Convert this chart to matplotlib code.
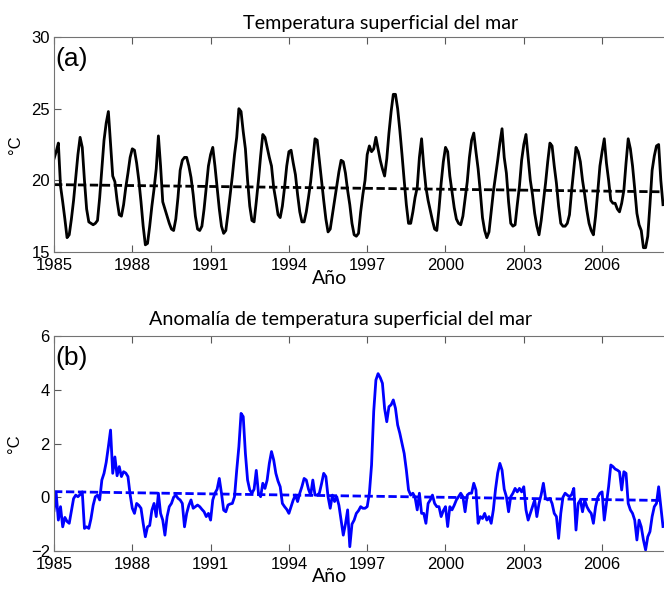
import matplotlib
matplotlib.use('Agg')
import matplotlib.pyplot as plt
import numpy as np

plt.rcParams['font.family'] = ['Liberation Sans', 'DejaVu Sans']

# monthly sea surface temperature (degC), Jan 1985 - May 2008
sst = [
    21.5, 22.0, 22.6, 19.6, 18.5, 17.3, 16.0, 16.2, 17.3, 18.6, 20.2, 21.8,  # 1985
    23.0, 22.3, 20.0, 18.0, 17.1, 17.0, 16.9, 17.0, 17.2, 18.8, 20.8, 22.8,  # 1986
    24.0, 24.8, 22.5, 20.3, 19.9, 18.6, 17.6, 17.5, 18.3, 19.5, 20.5, 21.6,  # 1987
    22.2, 22.1, 21.2, 20.0, 18.5, 16.8, 15.5, 15.6, 16.8, 18.2, 19.4, 20.8,  # 1988
    23.1, 21.0, 18.5, 18.0, 17.5, 17.0, 16.6, 16.5, 17.3, 18.8, 20.7, 21.4,  # 1989
    21.6, 21.6, 21.0, 20.2, 19.0, 17.5, 16.6, 16.5, 16.8, 18.0, 19.5, 21.0,  # 1990
    21.8, 22.3, 21.0, 19.5, 18.0, 16.8, 16.3, 16.5, 17.7, 19.0, 20.3, 21.8,  # 1991
    23.0, 25.0, 24.8, 23.4, 22.2, 20.0, 18.2, 17.2, 17.1, 18.5, 20.0, 21.7,  # 1992
    23.2, 23.0, 22.3, 21.6, 21.0, 19.5, 18.6, 17.6, 17.4, 18.2, 19.5, 21.0,  # 1993
    22.0, 22.1, 21.2, 20.4, 19.0, 17.8, 17.1, 17.1, 17.8, 18.8, 19.9, 21.4,  # 1994
    22.9, 22.8, 21.4, 20.0, 18.6, 17.3, 16.4, 16.6, 17.6, 18.6, 19.6, 20.6,  # 1995
    21.4, 21.3, 20.5, 19.3, 18.3, 17.0, 16.2, 16.1, 16.3, 17.8, 19.0, 20.0,  # 1996
    21.8, 22.4, 22.0, 22.2, 23.0, 22.2, 21.4, 20.8, 20.3, 21.5, 23.3, 24.8,  # 1997
    26.0, 26.0, 25.0, 23.5, 21.8, 20.0, 18.3, 17.0, 17.0, 17.8, 18.8, 19.5,  # 1998
    21.6, 22.9, 21.0, 19.5, 18.6, 17.9, 17.2, 16.6, 16.5, 18.0, 19.8, 21.3,  # 1999
    22.3, 22.0, 20.3, 19.2, 18.1, 17.3, 17.0, 16.9, 17.5, 18.7, 19.9, 21.6,  # 2000
    22.8, 23.3, 22.0, 20.8, 19.2, 17.4, 16.5, 16.0, 16.4, 17.8, 19.2, 20.3,  # 2001
    21.4, 22.6, 23.6, 21.6, 20.5, 18.5, 17.0, 16.8, 16.9, 18.3, 19.6, 21.4,  # 2002
    22.5, 23.2, 21.6, 20.0, 19.0, 17.7, 16.8, 16.2, 17.2, 18.5, 19.8, 21.3,  # 2003
    22.6, 22.4, 21.0, 19.8, 18.2, 17.0, 16.8, 16.8, 17.0, 17.6, 19.3, 20.8,  # 2004
    22.3, 22.0, 21.3, 20.0, 19.0, 17.9, 17.0, 16.5, 16.2, 17.5, 19.2, 21.0,  # 2005
    22.0, 22.9, 21.2, 20.0, 18.6, 18.4, 18.4, 18.0, 17.8, 18.4, 19.3, 21.2,  # 2006
    22.9, 22.2, 21.0, 19.4, 17.7, 16.9, 16.5, 15.3, 15.3, 16.1, 18.3, 20.7,  # 2007
    21.7, 22.4, 22.5, 20.0, 18.3,                                            # 2008
]

# monthly SST anomaly (degC)
anom = [
    -0.50, 0.15, -0.85, -0.35, -1.10, -0.75, -0.90, -0.97, -0.50, -0.05, 0.08, 0.02,  # 1985
    0.10, 0.20, -1.16, -1.10, -1.16, -0.80, -0.30, 0.02, 0.08, -0.10, 0.64, 0.89,     # 1986
    1.30, 1.88, 2.50, 0.89, 1.50, 0.80, 1.14, 0.77, 0.95, 0.90, 0.77, 0.10,           # 1987
    -0.41, -0.60, -0.23, -0.30, -0.41, -0.97, -1.47, -1.10, -1.05, -0.48, -0.23, -0.72,  # 1988
    0.15, -0.60, -0.85, -1.41, -0.72, -0.35, -0.23, 0.00, 0.08, -0.04, -0.10, -0.23,  # 1989
    -1.10, -0.60, -0.30, -0.10, -0.41, -0.35, -0.29, -0.35, -0.45, -0.54, -0.72, -0.60,  # 1990
    -0.85, -0.10, 0.15, 0.30, 0.70, 0.15, -0.48, -0.54, -0.29, -0.25, -0.23, 0.02,    # 1991
    1.00, 1.88, 3.12, 3.00, 1.63, 0.64, 0.27, 0.15, 0.30, 1.00, 0.15, 0.02,           # 1992
    0.52, 0.33, 0.64, 1.26, 1.70, 1.39, 0.89, 0.60, 0.39, -0.23, -0.35, -0.45,        # 1993
    -0.60, -0.35, -0.10, 0.08, -0.16, 0.15, 0.40, 0.70, 0.64, 0.30, 0.08, 0.64,       # 1994
    0.08, 0.08, 0.15, 0.50, 0.89, 0.77, 0.02, -0.41, 0.08, -0.16, 0.02, -0.30,        # 1995
    -0.85, -1.41, -1.00, -0.47, -1.84, -1.00, -0.85, -0.60, -0.50, -0.35, -0.41, -0.41,  # 1996
    -0.35, 0.15, 1.20, 3.20, 4.36, 4.60, 4.45, 4.24, 3.30, 2.81, 3.37, 3.44,          # 1997
    3.62, 3.31, 2.69, 2.38, 2.00, 1.63, 1.01, 0.27, 0.08, 0.15, 0.00, -0.47,          # 1998
    0.15, -0.60, -0.60, -0.97, -0.23, -0.10, 0.08, -0.23, -0.35, -0.35, -0.72, -0.50,  # 1999
    -0.35, -1.09, -0.35, -0.47, -0.30, -0.10, 0.02, 0.15, 0.02, -0.54, 0.08, 0.15,    # 2000
    0.15, 0.52, 0.27, -0.97, -0.72, -0.79, -0.60, -0.85, -0.72, -0.97, -0.47, 0.30,   # 2001
    0.90, 1.26, 1.01, 0.30, 0.02, -0.54, 0.02, 0.15, 0.33, 0.20, 0.33, 0.20,          # 2002
    0.39, -0.47, -0.85, -0.60, -0.35, -0.10, -0.72, -0.23, 0.10, 0.52, -0.04, -0.10,  # 2003
    -0.04, -0.23, -0.60, -0.72, -1.53, -0.60, 0.00, 0.15, 0.08, 0.02, 0.10, 0.33,     # 2004
    -1.22, -0.23, -0.10, -0.54, -0.10, -0.35, -0.50, -0.60, -0.97, -0.35, 0.00, 0.15,  # 2005
    0.20, -0.85, -0.23, 0.40, 1.20, 1.14, 1.05, 1.01, 0.95, 0.27, 0.95, 0.89,         # 2006
    -0.23, -0.47, -0.60, -0.85, -1.59, -0.85, -1.10, -1.59, -1.96, -1.47, -1.28, -0.72,  # 2007
    -0.35, -0.23, 0.39, -0.35, -1.09,                                                 # 2008
]

# linear trends, start / end values
sst_trend = [19.7, 19.2]
anom_trend = [0.21, -0.12]

xticks = [1985, 1988, 1991, 1994, 1997, 2000, 2003, 2006]

W, H = 664, 590
t = 1985 + np.arange(len(sst)) / 12.0
t_tr = [t[0], t[-1]]

fig = plt.figure(figsize=(W / 100, H / 100), dpi=100)
ax1 = fig.add_axes([54 / W, 1 - 252 / H, 614 / W, 215 / H])
ax2 = fig.add_axes([54 / W, 1 - 551 / H, 614 / W, 215 / H])

ax1.plot(t, sst, color='black', lw=2)
ax1.plot(t_tr, sst_trend, color='black', lw=2, linestyle=(0, (3, 1.3)))
ax2.plot(t, anom, color='#0000ff', lw=2)
ax2.plot(t_tr, anom_trend, color='#0000ff', lw=2, linestyle=(0, (3, 1.3)))

ax1.set_ylim(15, 30)
ax1.set_yticks([15, 20, 25, 30])
ax2.set_ylim(-2, 6)
ax2.set_yticks([-2, 0, 2, 4, 6])

for ax, tag, lab_y in [(ax1, '(a)', -0.082), (ax2, '(b)', -0.078)]:
    ax.set_xlim(1985, 1985 + 614 / 26.1)
    ax.set_xticks(xticks)
    ax.tick_params(direction='in', length=5, width=0.8, color='0.35',
                   labelsize=12, top=True, right=False)
    ax.tick_params(axis='x', pad=4)
    ax.tick_params(axis='y', pad=3)
    for s in ax.spines.values():
        s.set_color('0.45')
        s.set_linewidth(0.8)
    ax.spines['right'].set_visible(False)
    ax.set_ylabel('°C', fontsize=12, labelpad=6)
    ax.set_xlabel('Año', fontsize=14, family=['Lato', 'DejaVu Sans'])
    ax.xaxis.set_label_coords((330 - 54) / 614, lab_y)
    ax.text(0.002, 0.955, tag, transform=ax.transAxes, fontsize=19,
            ha='left', va='top')

fig.text(381 / W, 1 - 29 / H, 'Temperatura superficial del mar',
         ha='center', va='baseline', fontsize=14.2, family=['Lato', 'DejaVu Sans'])
fig.text(341 / W, 1 - 325 / H, 'Anomalía de temperatura superficial del mar',
         ha='center', va='baseline', fontsize=14.2, family=['Lato', 'DejaVu Sans'])

fig.savefig('out.png', dpi=100)
